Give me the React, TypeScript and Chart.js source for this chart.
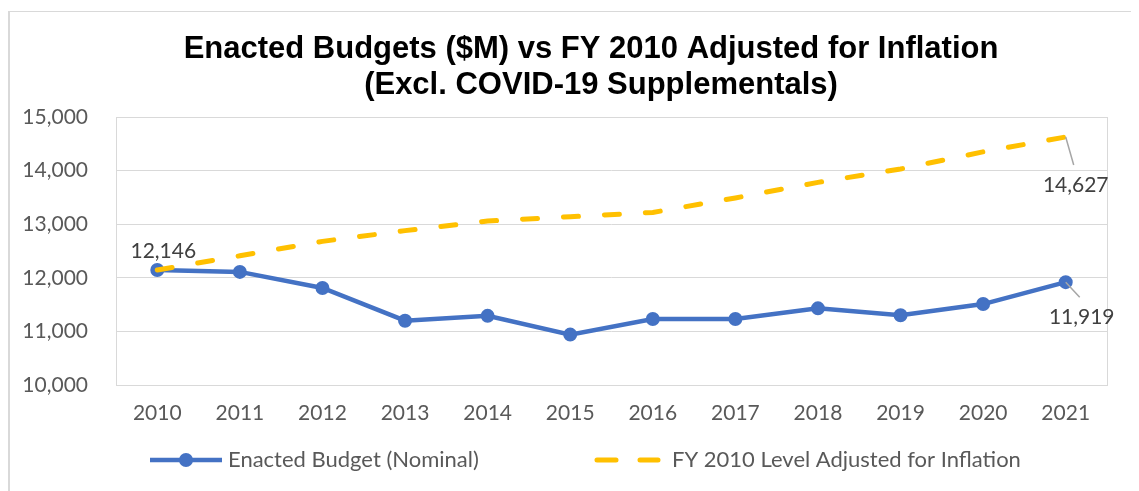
import React, { useEffect, useRef } from "react";
import { Chart, registerables } from "chart.js";

Chart.register(...registerables);

const years = ["2010", "2011", "2012", "2013", "2014", "2015", "2016", "2017", "2018", "2019", "2020", "2021"];
const enactedNominal = [12146, 12110, 11810, 11200, 11290, 10940, 11230, 11230, 11430, 11300, 11510, 11919];
const fy2010Adjusted = [12146, 12410, 12680, 12880, 13060, 13140, 13220, 13490, 13780, 14030, 14350, 14627];
const yTicks = [10000, 11000, 12000, 13000, 14000, 15000];
const titleLines = ["Enacted Budgets ($M) vs FY 2010 Adjusted for Inflation", "(Excl. COVID-19 Supplementals)"];
const legendLabels = ["Enacted Budget (Nominal)", "FY 2010 Level Adjusted for Inflation"];

const BLUE = "#4472C4";
const GOLD = "#FFC000";
const GRID = "#D9D9D9";
const TICK = "#595959";
const LABEL = "#404040";
const FONT = "Lato";

const fmt = (v: number) => v.toLocaleString("en-US");

const decorPlugin = {
  id: "decor",
  beforeDraw(chart: any) {
    const { ctx, width, height } = chart;
    ctx.save();
    ctx.fillStyle = "#ffffff";
    ctx.fillRect(0, 0, width, height);
    ctx.fillStyle = GRID;
    ctx.fillRect(0, 3, 2, height);
    ctx.fillRect(0, 3, width, 1);
    // title
    ctx.fillStyle = "#000000";
    ctx.font = "bold 31px 'Liberation Sans', Arial, sans-serif";
    ctx.textAlign = "center";
    ctx.textBaseline = "alphabetic";
    ctx.fillText(titleLines[0], 583, 50);
    ctx.fillText(titleLines[1], 593, 86);
    ctx.restore();
  },
  beforeDatasetsDraw(chart: any) {
    const { ctx, chartArea } = chart;
    ctx.save();
    ctx.strokeStyle = GRID;
    ctx.lineWidth = 1;
    ctx.strokeRect(Math.round(chartArea.left) + 0.5, Math.round(chartArea.top) + 0.5,
      Math.round(chartArea.right - chartArea.left), Math.round(chartArea.bottom - chartArea.top));
    ctx.restore();
  },
  afterDraw(chart: any) {
    const { ctx } = chart;
    const blueMeta = chart.getDatasetMeta(0);
    const goldMeta = chart.getDatasetMeta(1);
    const last = years.length - 1;
    const p0 = blueMeta.data[0];
    const pb = blueMeta.data[last];
    const pg = goldMeta.data[last];
    ctx.save();
    // leader lines
    ctx.strokeStyle = "#A6A6A6";
    ctx.lineWidth = 1.5;
    ctx.beginPath();
    ctx.moveTo(pg.x, pg.y);
    ctx.lineTo(pg.x + 8, pg.y + 28);
    ctx.moveTo(pb.x, pb.y);
    ctx.lineTo(pb.x + 14, pb.y + 15);
    ctx.stroke();
    // data labels
    ctx.fillStyle = LABEL;
    ctx.font = `21px ${FONT}`;
    ctx.textAlign = "center";
    ctx.textBaseline = "middle";
    ctx.fillText(fmt(enactedNominal[0]), p0.x + 6, p0.y - 19);
    ctx.fillText(fmt(fy2010Adjusted[last]), pg.x + 10, pg.y + 48);
    ctx.fillText(fmt(enactedNominal[last]), pb.x + 16, pb.y + 35);

    // legend
    const ly = 452;
    ctx.lineCap = "butt";
    ctx.strokeStyle = BLUE;
    ctx.lineWidth = 4.5;
    ctx.beginPath();
    ctx.moveTo(142, ly);
    ctx.lineTo(214, ly);
    ctx.stroke();
    ctx.fillStyle = BLUE;
    ctx.beginPath();
    ctx.arc(178, ly, 7, 0, Math.PI * 2);
    ctx.fill();
    ctx.strokeStyle = GOLD;
    ctx.lineWidth = 5;
    ctx.lineCap = "round";
    ctx.beginPath();
    ctx.moveTo(589, ly);
    ctx.lineTo(608, ly);
    ctx.moveTo(632, ly);
    ctx.lineTo(650, ly);
    ctx.stroke();
    ctx.fillStyle = TICK;
    ctx.textAlign = "left";
    ctx.textBaseline = "middle";
    ctx.font = `22px ${FONT}`;
    ctx.fillText(legendLabels[0], 220, ly);
    ctx.fillText(legendLabels[1], 664, ly);
    ctx.restore();
  },
};

export default function App() {
  const ref = useRef<HTMLCanvasElement | null>(null);
  useEffect(() => {
    if (!ref.current) return;
    const chart = new Chart(ref.current, {
      type: "line",
      data: {
        labels: years,
        datasets: [
          {
            label: legendLabels[0],
            data: enactedNominal,
            borderColor: BLUE,
            backgroundColor: BLUE,
            borderWidth: 4.5,
            pointRadius: 6,
            pointBorderWidth: 2,
            pointBackgroundColor: BLUE,
            pointBorderColor: BLUE,
            tension: 0,
            order: 1,
          },
          {
            label: legendLabels[1],
            data: fy2010Adjusted,
            borderColor: GOLD,
            backgroundColor: GOLD,
            borderWidth: 5,
            borderDash: [15, 26],
            borderCapStyle: "round",
            pointRadius: 0,
            tension: 0,
            order: 0,
          },
        ],
      },
      options: {
        animation: false,
        responsive: false,
        maintainAspectRatio: false,
        layout: { padding: { top: 109, right: 32, left: 0, bottom: 0 } },
        plugins: {
          legend: { display: false },
          title: { display: false },
          tooltip: { enabled: false },
        },
        scales: {
          x: {
            type: "category",
            offset: true,
            grid: { display: false, drawTicks: false },
            border: { display: false },
            ticks: { color: TICK, font: { family: FONT, size: 21 }, padding: 16 },
            afterFit: (s: any) => { s.height = 106; },
          },
          y: {
            min: yTicks[0],
            max: yTicks[yTicks.length - 1],
            grid: { color: GRID, drawTicks: false, lineWidth: 1 },
            border: { display: false },
            afterBuildTicks: (s: any) => { s.ticks = yTicks.map((v) => ({ value: v })); },
            ticks: {
              color: TICK,
              font: { family: FONT, size: 21 },
              padding: 28,
              callback: (v: any) => fmt(Number(v)),
            },
            afterFit: (s: any) => { s.width = 108; },
          },
        },
      },
      plugins: [decorPlugin],
    });
    return () => chart.destroy();
  }, []);
  return (
    <div style={{ position: "relative", width: 1131, height: 483 }}>
      <canvas ref={ref} width={1131} height={483} style={{ display: "block", width: 1131, height: 483 }} />
    </div>
  );
}
